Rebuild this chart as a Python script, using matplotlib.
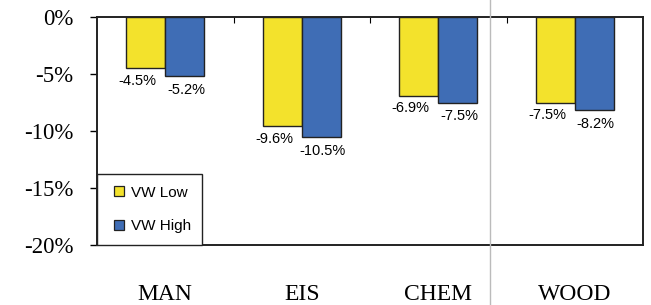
import numpy as np
import matplotlib
matplotlib.use('Agg')
import matplotlib.pyplot as plt
from matplotlib.lines import Line2D
from matplotlib.ticker import FuncFormatter

categories = ['MAN', 'EIS', 'CHEM', 'WOOD']
vw_low = [-4.5, -9.6, -6.9, -7.5]
vw_high = [-5.2, -10.5, -7.5, -8.2]
series_names = ['VW Low', 'VW High']
colors = ['#f3e22c', '#3f6db5']

fig = plt.figure(figsize=(6.51, 3.05), dpi=100)
ax = fig.add_axes([0.149, 0.197, 0.839, 0.747])

x = np.arange(len(categories))
w = 0.285
ax.bar(x - w / 2, vw_low, w, color=colors[0], edgecolor='#222222', linewidth=1.0)
ax.bar(x + w / 2, vw_high, w, color=colors[1], edgecolor='#222222', linewidth=1.0)

# value labels under the bars
for i in range(len(categories)):
    ax.annotate(f'{vw_low[i]:.1f}%', (x[i] - w / 2, vw_low[i]), xytext=(-6, -4),
                textcoords='offset points', ha='center', va='top',
                fontsize=10.5, family='Liberation Sans')
    ax.annotate(f'{vw_high[i]:.1f}%', (x[i] + w / 2, vw_high[i]), xytext=(1, -5),
                textcoords='offset points', ha='center', va='top',
                fontsize=10.5, family='Liberation Sans')

ax.set_xlim(-0.5, len(categories) - 0.5)
ax.set_ylim(-20, 0)
ax.set_yticks([0, -5, -10, -15, -20])
ax.yaxis.set_major_formatter(FuncFormatter(lambda v, p: f'{v:.0f}%'))
ax.set_xticks(x)
ax.set_xticklabels(categories)
for lab in ax.get_yticklabels():
    lab.set_family('Liberation Serif')
    lab.set_fontsize(16.5)
for lab in ax.get_xticklabels():
    lab.set_family('Liberation Serif')
    lab.set_fontsize(17)
ax.tick_params(axis='x', length=0, pad=28)
ax.tick_params(axis='y', direction='out', length=5, width=1, pad=12)

# small ticks at top between groups
ax.set_xticks(np.arange(0.5, len(categories) - 0.5, 1.0), minor=True)
ax.tick_params(axis='x', which='minor', direction='in', length=4, width=0.8, top=True, bottom=False)

for s in ax.spines.values():
    s.set_linewidth(1.4)
    s.set_color('#222222')

handles = [Line2D([], [], linestyle='none', marker='s', markersize=6.5,
                  markerfacecolor=c, markeredgecolor='#222222', markeredgewidth=0.9)
           for c in colors]
leg = ax.legend(handles, series_names, loc='lower left', bbox_to_anchor=(0, 0), borderaxespad=0,
                prop={'family': 'Liberation Sans', 'size': 11},
                handlelength=1.4, handletextpad=0.05,
                labelspacing=1.3, borderpad=0.75, fancybox=False,
                edgecolor='#222222', framealpha=1)
leg.get_frame().set_linewidth(1.0)

# faint scan fold line
fig.add_artist(Line2D([0.752, 0.752], [0, 1], color='#bbbbbb', linewidth=1.0))

fig.savefig('out.png', dpi=100)
